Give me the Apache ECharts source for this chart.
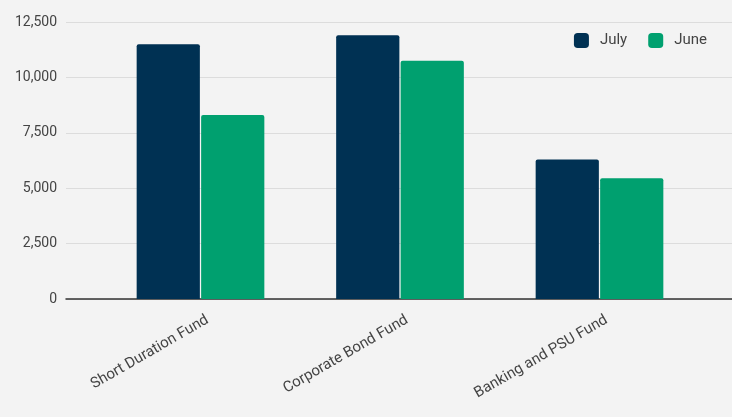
<!DOCTYPE html>
<html>
<head>
<meta charset="utf-8">
<script src="https://cdn.jsdelivr.net/npm/echarts@6/dist/echarts.min.js"></script>
<style>
  html, body { margin: 0; padding: 0; background: #f3f3f3; }
  #chart { width: 732px; height: 417px; }
</style>
</head>
<body>
<div id="chart"></div>
<script>
var funds = ['Short Duration Fund', 'Corporate Bond Fund', 'Banking and PSU Fund'];
var july = [11500, 11900, 6300];
var june = [8300, 10750, 5450];
var yTicks = { min: 0, max: 12500, interval: 2500 };

var myChart = echarts.init(document.getElementById('chart'));

var textColor = '#444';

var option = {
  backgroundColor: '#f3f3f3',
  textStyle: { fontFamily: 'Roboto' },
  legend: {
    data: ['July', 'June'],
    right: 20,
    top: 28,
    itemWidth: 15,
    itemHeight: 15,
    itemGap: 21,
    icon: 'roundRect',
    textStyle: { color: textColor, fontSize: 15, fontFamily: 'Roboto', padding: [0, 0, 0, 6] }
  },
  grid: [
    // full width grid: gridlines + baseline
    { left: 66, right: 0, top: 22, bottom: 118 },
    // bars grid
    { left: 100.75, right: 32.75, top: 22, bottom: 118 },
    // labels grid (shifted a bit right like the original)
    { left: 107.75, right: 25.75, top: 22, bottom: 118 }
  ],
  xAxis: [
    {
      type: 'category',
      gridIndex: 0,
      data: [''],
      axisLine: { show: true, lineStyle: { color: '#333', width: 1.5 } },
      axisTick: { show: false },
      axisLabel: { show: false }
    },
    {
      type: 'category',
      gridIndex: 1,
      data: funds,
      axisLine: { show: false },
      axisTick: { show: false },
      axisLabel: { show: false }
    },
    {
      type: 'category',
      gridIndex: 2,
      data: funds,
      axisLine: { show: false },
      axisTick: { show: false },
      axisLabel: {
        rotate: 30,
        margin: 20,
        color: textColor,
        fontSize: 15,
        fontFamily: 'Roboto'
      }
    }
  ],
  yAxis: [
    {
      type: 'value',
      gridIndex: 0,
      min: yTicks.min,
      max: yTicks.max,
      interval: yTicks.interval,
      axisLine: { show: false },
      axisTick: { show: false },
      axisLabel: {
        margin: 9,
        color: textColor,
        fontSize: 14,
        fontFamily: 'Roboto',
        formatter: function (v) { return v.toLocaleString('en-US'); }
      },
      splitLine: { lineStyle: { color: '#dcdcdc', width: 1 } }
    },
    {
      type: 'value',
      gridIndex: 1,
      min: yTicks.min,
      max: yTicks.max,
      interval: yTicks.interval,
      show: false,
      splitLine: { show: false }
    },
    {
      type: 'value',
      gridIndex: 2,
      min: yTicks.min,
      max: yTicks.max,
      interval: yTicks.interval,
      show: false,
      splitLine: { show: false }
    }
  ],
  series: [
    {
      name: 'July',
      type: 'bar',
      xAxisIndex: 1,
      yAxisIndex: 1,
      data: july,
      barCategoryGap: '36%',
      barGap: '2%',
      itemStyle: { color: '#003153', borderRadius: [2, 2, 0, 0] }
    },
    {
      name: 'June',
      type: 'bar',
      xAxisIndex: 1,
      yAxisIndex: 1,
      data: june,
      barCategoryGap: '36%',
      barGap: '2%',
      itemStyle: { color: '#00a06f', borderRadius: [2, 2, 0, 0] }
    }
  ]
};

myChart.setOption(option);
</script>
</body>
</html>
